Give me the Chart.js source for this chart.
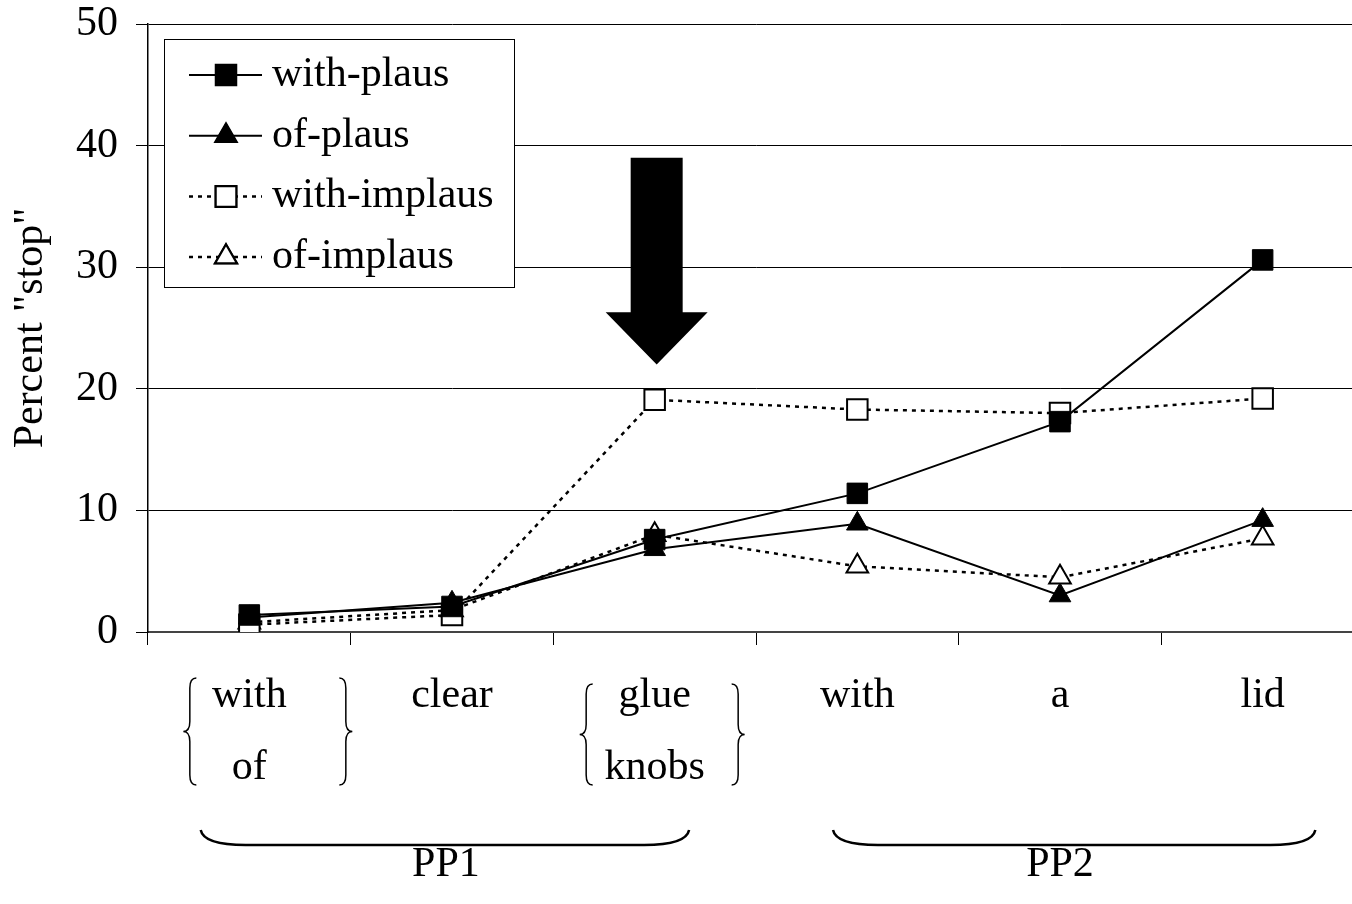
<!DOCTYPE html>
<html>
<head>
<meta charset="utf-8">
<script src="https://cdn.jsdelivr.net/npm/chart.js@4.4.1/dist/chart.umd.min.js"></script>
<style>
html, body { margin: 0; padding: 0; background: #fff; overflow: hidden; }
#wrap { position: absolute; left: 0; top: 0; width: 1364px; height: 904px; }
</style>
</head>
<body>
<div id="wrap"><canvas id="myChart" width="1364" height="904"></canvas></div>
<script>
// words of the sentence, one per region
const words = [['with', 'of'], 'clear', ['glue', 'knobs'], 'with', 'a', 'lid'];

// percent "stop" per region
const withPlaus   = [1.4, 2.1, 7.6, 11.4, 17.3, 30.6];
const ofPlaus     = [1.2, 2.4, 6.8, 8.9, 3.0, 9.2];
const withImplaus = [0.6, 1.4, 19.1, 18.3, 18.0, 19.2];
const ofImplaus   = [0.8, 1.8, 8.0, 5.4, 4.5, 7.7];

const seriesNames = ['with-plaus', 'of-plaus', 'with-implaus', 'of-implaus'];

const yMin = 0;
const yMax = 50;
const yStep = 10;

// phrase groups under the axis
const groupNames = ['PP1', 'PP2'];

const serif = '"Liberation Serif", "Times New Roman", serif';
Chart.defaults.font.family = serif;
Chart.defaults.color = '#000';

const dash = [4, 5];

function makeSet(label, data, style, filled, dotted) {
  return {
    label: label,
    data: data,
    borderColor: '#000',
    borderWidth: dotted ? 2.5 : 2,
    borderDash: dotted ? dash : [],
    pointStyle: style,
    pointRadius: style === 'rect' ? 14.5 : 12.5,
    pointHoverRadius: style === 'rect' ? 14.5 : 12.5,
    pointBackgroundColor: filled ? '#000' : '#fff',
    pointBorderColor: '#000',
    pointBorderWidth: filled ? 1 : 2,
    fill: false,
    tension: 0
  };
}

function vBrace(ctx, x, y0, y1, w, dir) {
  // dir 1 = "{" with tip at x, dir -1 = "}" with tip at x
  const ym = (y0 + y1) / 2;
  const xb = x + dir * w / 2;
  const xe = x + dir * w;
  const r = 10;
  ctx.beginPath();
  ctx.moveTo(xe, y0);
  ctx.quadraticCurveTo(xb, y0, xb, y0 + r);
  ctx.lineTo(xb, ym - r);
  ctx.quadraticCurveTo(xb, ym, x, ym);
  ctx.quadraticCurveTo(xb, ym, xb, ym + r);
  ctx.lineTo(xb, y1 - r);
  ctx.quadraticCurveTo(xb, y1, xe, y1);
  ctx.stroke();
}

function hBrace(ctx, x0, x1, yTop, yBot) {
  ctx.beginPath();
  ctx.moveTo(x0, yTop);
  ctx.quadraticCurveTo(x0 + 3, yBot, x0 + 45, yBot);
  ctx.lineTo(x1 - 45, yBot);
  ctx.quadraticCurveTo(x1 - 3, yBot, x1, yTop);
  ctx.stroke();
}

const extras = {
  id: 'extras',
  afterDraw(chart) {
    const ctx = chart.ctx;
    const x = chart.scales.x;
    const y = chart.scales.y;
    ctx.save();

    // curly braces around the two alternative words
    ctx.strokeStyle = '#000';
    ctx.lineWidth = 1.5;
    const b0 = x.getPixelForValue(0);
    const b2 = x.getPixelForValue(2);
    vBrace(ctx, b0 - 66, 678, 785, 13, 1);
    vBrace(ctx, b0 + 103, 678, 785, 13, -1);
    vBrace(ctx, b2 - 75, 684, 785, 13, 1);
    vBrace(ctx, b2 + 90, 684, 785, 13, -1);

    // phrase brackets and names
    ctx.lineWidth = 2.5;
    const groupFrom = [-0.24, 2.88];
    const groupTo = [2.17, 5.26];
    const groupAt = [0.97, 4.0];
    ctx.font = '42px ' + serif;
    ctx.fillStyle = '#000';
    ctx.textAlign = 'center';
    ctx.textBaseline = 'middle';
    groupNames.forEach((g, i) => {
      hBrace(ctx, x.getPixelForValue(groupFrom[i]), x.getPixelForValue(groupTo[i]), 830, 845);
      ctx.fillText(g, x.getPixelForValue(groupAt[i]), 865);
    });

    // big arrow pointing at the disambiguating word
    const ax = x.getPixelForValue(2) + 2;
    const top = y.getPixelForValue(39.0);
    const neck = y.getPixelForValue(26.3);
    const tip = y.getPixelForValue(22.0);
    ctx.beginPath();
    ctx.moveTo(ax - 26, top);
    ctx.lineTo(ax + 26, top);
    ctx.lineTo(ax + 26, neck);
    ctx.lineTo(ax + 51, neck);
    ctx.lineTo(ax, tip);
    ctx.lineTo(ax - 51, neck);
    ctx.lineTo(ax - 26, neck);
    ctx.closePath();
    ctx.fill();

    // legend box
    const lx = 164, ly = 39, lw = 350, lh = 248;
    ctx.fillStyle = '#fff';
    ctx.fillRect(lx, ly, lw, lh);
    ctx.strokeStyle = '#000';
    ctx.lineWidth = 1;
    ctx.strokeRect(lx + 0.5, ly + 0.5, lw, lh);
    chart.data.datasets.forEach((ds, i) => {
      const ry = 75 + i * 60.7;
      ctx.strokeStyle = '#000';
      ctx.lineWidth = ds.borderWidth;
      ctx.setLineDash(ds.borderDash);
      ctx.beginPath();
      ctx.moveTo(189, ry);
      ctx.lineTo(262, ry);
      ctx.stroke();
      ctx.setLineDash([]);
      Chart.helpers.drawPoint(ctx, {
        pointStyle: ds.pointStyle,
        radius: ds.pointRadius,
        borderWidth: ds.pointBorderWidth,
        rotation: 0
      }, 226, ry);
      ctx.fillStyle = ds.pointBackgroundColor;
      ctx.strokeStyle = '#000';
      ctx.lineWidth = ds.pointBorderWidth;
      ctx.fill();
      ctx.stroke();
      ctx.fillStyle = '#000';
      ctx.font = '42px ' + serif;
      ctx.textAlign = 'left';
      ctx.textBaseline = 'middle';
      ctx.fillText(ds.label, 272, ry);
    });
    ctx.restore();
  }
};

const chart = new Chart(document.getElementById('myChart'), {
  type: 'line',
  data: {
    labels: words,
    datasets: [
      makeSet(seriesNames[0], withPlaus, 'rect', true, false),
      makeSet(seriesNames[1], ofPlaus, 'triangle', true, false),
      makeSet(seriesNames[2], withImplaus, 'rect', false, true),
      makeSet(seriesNames[3], ofImplaus, 'triangle', false, true)
    ]
  },
  options: {
    responsive: false,
    animation: false,
    layout: { autoPadding: false, padding: { left: 0, right: 0, top: 24, bottom: 0 } },
    plugins: {
      legend: { display: false },
      tooltip: { enabled: false }
    },
    scales: {
      x: {
        type: 'category',
        offset: true,
        grid: {
          offset: true,
          drawOnChartArea: false,
          drawTicks: true,
          tickLength: 13,
          color: '#000',
          lineWidth: 1
        },
        border: { display: true, color: '#444', width: 2 },
        ticks: {
          autoSkip: false,
          maxRotation: 0,
          minRotation: 0,
          padding: 15,
          color: '#000',
          font: { size: 42, family: serif, lineHeight: 72 / 42 }
        },
        afterFit(scale) {
          scale.height = 272;
          scale.paddingLeft = 0;
          scale.paddingRight = 0;
        }
      },
      y: {
        min: yMin,
        max: yMax,
        ticks: {
          stepSize: yStep,
          padding: 18,
          color: '#000',
          font: { size: 42, family: serif, lineHeight: 1.15 }
        },
        grid: {
          color: '#000',
          lineWidth: 1,
          tickLength: 12
        },
        border: { display: true, color: '#000', width: 1.5 },
        title: {
          display: true,
          text: 'Percent "stop"',
          color: '#000',
          font: { size: 42, family: serif, lineHeight: 1.2 },
          padding: { top: 6, bottom: 0 }
        },
        afterFit(scale) {
          scale.width = 148;
          scale.paddingTop = 0;
          scale.paddingBottom = 0;
        }
      }
    }
  },
  plugins: [extras]
});
</script>
</body>
</html>
